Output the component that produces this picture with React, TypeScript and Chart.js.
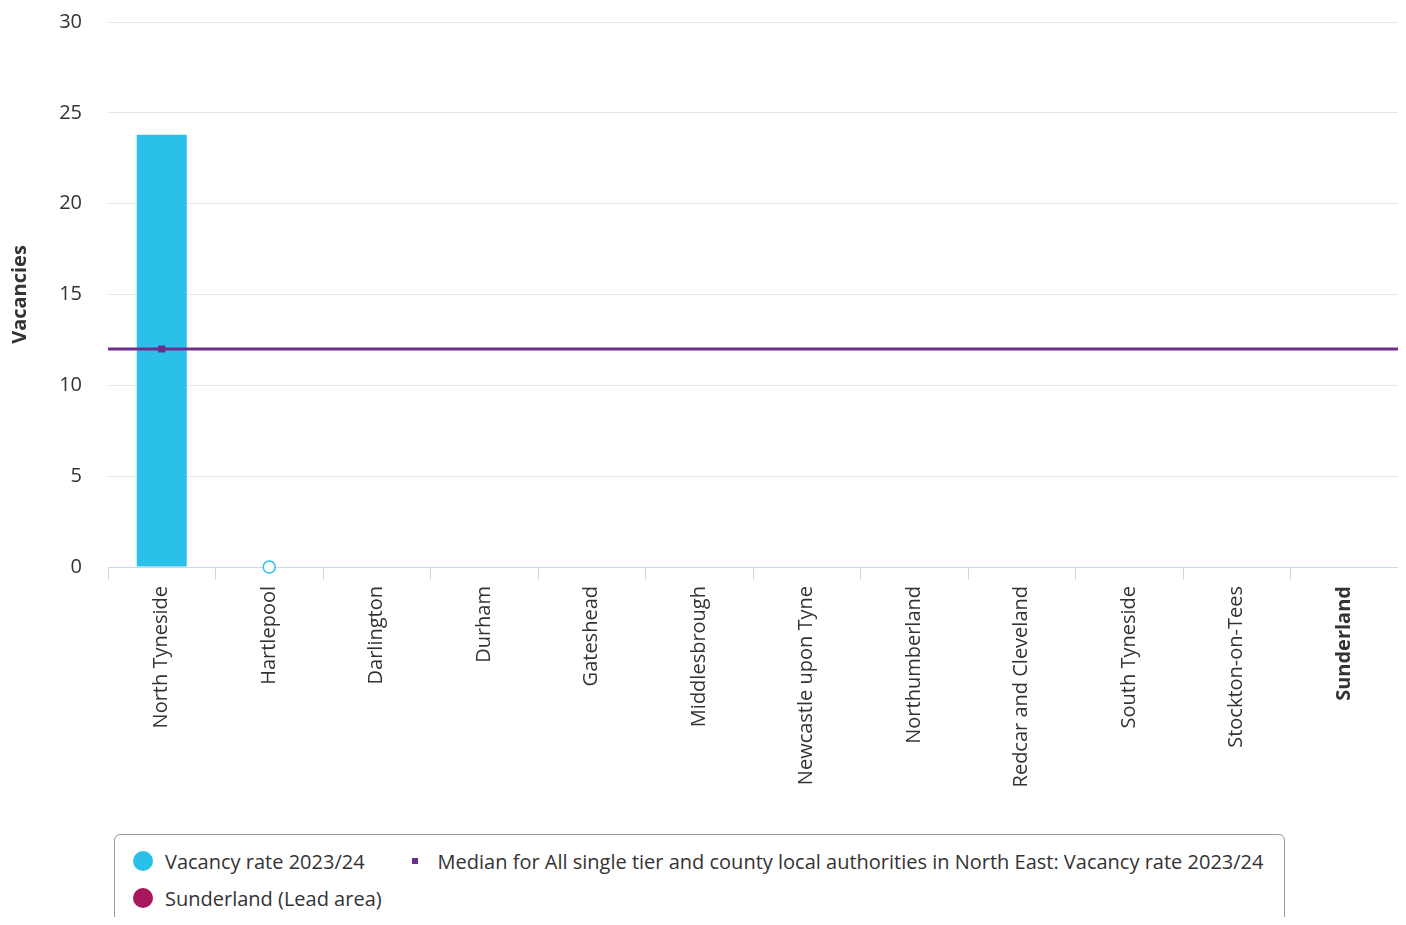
import React, { useEffect, useRef } from "react";
import { Chart, registerables } from "chart.js";

Chart.register(...registerables);

const categories = [
  "North Tyneside",
  "Hartlepool",
  "Darlington",
  "Durham",
  "Gateshead",
  "Middlesbrough",
  "Newcastle upon Tyne",
  "Northumberland",
  "Redcar and Cleveland",
  "South Tyneside",
  "Stockton-on-Tees",
  "Sunderland",
];
const vacancyRate: (number | null)[] = [23.8, 0, null, null, null, null, null, null, null, null, null, null];
const medianValue = 12;
const medianMarkerIndex = 0;
const leadArea = "Sunderland";
const yMin = 0;
const yMax = 30;
const yStep = 5;

const seriesLabel = "Vacancy rate 2023/24";
const medianLabel = "Median for All single tier and county local authorities in North East: Vacancy rate 2023/24";
const leadLabel = "Sunderland (Lead area)";
const yTitle = "Vacancies";

const CYAN = "#2bc0ea";
const PURPLE = "#6c2d8c";
const CRIMSON = "#a8175a";
const FONT = "'Open Sans', sans-serif";
const FS = 20;

export default function App() {
  const ref = useRef<HTMLCanvasElement | null>(null);

  useEffect(() => {
    if (!ref.current) return;
    const n = categories.length;
    const chart = new Chart(ref.current, {
      type: "bar",
      data: {
        labels: categories,
        datasets: [
          {
            type: "bar",
            label: seriesLabel,
            data: vacancyRate,
            backgroundColor: CYAN,
            borderWidth: 0,
            grouped: false,
            categoryPercentage: 1,
            barPercentage: 0.465,
            order: 3,
          } as any,
          {
            type: "line",
            label: "zero",
            data: vacancyRate.map((v) => (v === 0 ? 0 : null)),
            showLine: false,
            clip: false,
            pointRadius: 6,
            pointBorderWidth: 1.5,
            pointBorderColor: CYAN,
            pointBackgroundColor: "#ffffff",
            order: 1,
          } as any,
          {
            type: "line",
            label: medianLabel,
            xAxisID: "x2",
            data: [
              { x: -0.5, y: medianValue },
              { x: n - 0.5, y: medianValue },
            ],
            borderColor: PURPLE,
            borderWidth: 3,
            pointRadius: 0,
            order: 2,
          } as any,
          {
            type: "line",
            label: "median marker",
            xAxisID: "x2",
            data: [{ x: medianMarkerIndex, y: medianValue }],
            showLine: false,
            clip: false,
            pointStyle: "rect",
            pointRadius: 5,
            pointBackgroundColor: PURPLE,
            pointBorderColor: PURPLE,
            pointBorderWidth: 0,
            order: 0,
          } as any,
        ],
      },
      options: {
        animation: false,
        responsive: false,
        maintainAspectRatio: false,
        layout: { autoPadding: false, padding: { top: 14, right: 0, bottom: 0, left: 0 } },
        plugins: { legend: { display: false }, tooltip: { enabled: false } },
        scales: {
          x: {
            type: "category",
            offset: true,
            grid: {
              offset: true,
              drawOnChartArea: false,
              drawTicks: true,
              tickLength: 13,
              color: "#ccd6eb",
            },
            border: { display: true, color: "#ccd6eb", width: 1 },
            ticks: {
              autoSkip: false,
              minRotation: 90,
              maxRotation: 90,
              padding: 6,
              color: "#333333",
              font: (ctx: any) => ({
                family: FONT,
                size: FS,
                weight: categories[ctx.index] === leadArea ? "bold" : "normal",
              }),
            },
            afterFit: (scale: any) => {
              scale.height = 253;
              scale.paddingLeft = 0;
              scale.paddingRight = 0;
            },
          },
          x2: {
            type: "linear",
            display: false,
            min: -0.5,
            max: n - 0.5,
            offset: false,
          },
          y: {
            min: yMin,
            max: yMax,
            ticks: {
              stepSize: yStep,
              padding: 26,
              color: "#333333",
              font: { family: FONT, size: FS },
            },
            grid: { color: "#e6e6e6", drawTicks: false, lineWidth: 1 },
            border: { display: false },
            title: {
              display: true,
              text: yTitle,
              color: "#333333",
              padding: { top: 0, bottom: 0 },
              font: { family: FONT, size: FS, weight: "bold" },
            },
            afterFit: (scale: any) => {
              scale.width = 100;
              scale.paddingTop = 0;
              scale.paddingBottom = 0;
            },
          },
        },
      } as any,
    });
    return () => chart.destroy();
  }, []);

  const itemText: React.CSSProperties = {
    fontFamily: FONT,
    fontSize: FS,
    color: "#333333",
    whiteSpace: "nowrap",
  };

  return (
    <div style={{ width: 1390, height: 925, overflow: "hidden", marginBottom: -16 }}>
      <canvas ref={ref} width={1390} height={812} style={{ display: "block", width: 1390, height: 812 }} />
      <div
        style={{
          marginLeft: 106,
          marginTop: 14,
          width: 1171,
          height: 110,
          border: "1px solid #999999",
          borderRadius: 6,
          boxSizing: "border-box",
          padding: "12px 0 0 18px",
          display: "flex",
          flexWrap: "wrap",
          columnGap: 47,
          rowGap: 9,
          alignContent: "flex-start",
        }}
      >
        <div style={{ display: "flex", alignItems: "center", height: 28 }}>
          <span style={{ width: 20, height: 20, borderRadius: 10, background: CYAN, marginRight: 12 }} />
          <span style={itemText}>{seriesLabel}</span>
        </div>
        <div style={{ display: "flex", alignItems: "center", height: 28 }}>
          <span style={{ width: 6, height: 6, background: PURPLE, marginRight: 20 }} />
          <span style={itemText}>{medianLabel}</span>
        </div>
        <div style={{ display: "flex", alignItems: "center", height: 28 }}>
          <span style={{ width: 20, height: 20, borderRadius: 10, background: CRIMSON, marginRight: 12 }} />
          <span style={itemText}>{leadLabel}</span>
        </div>
      </div>
    </div>
  );
}
